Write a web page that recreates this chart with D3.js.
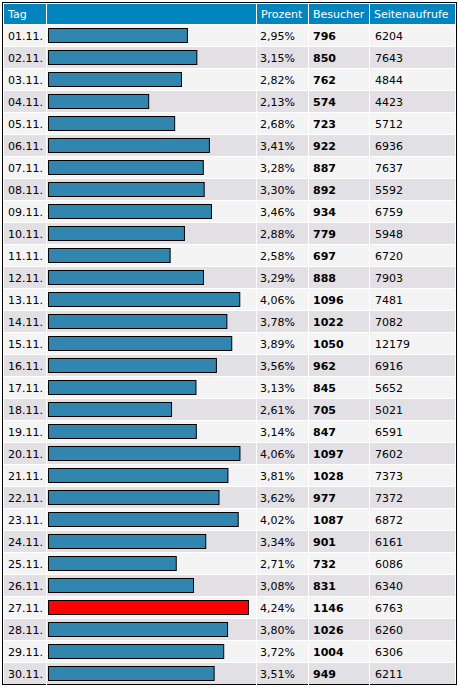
<!DOCTYPE html>
<html><head><meta charset="utf-8">
<script src="https://cdn.jsdelivr.net/npm/d3@7"></script>
<style>body{margin:0;background:#fff}text{font-family:"DejaVu Sans",Verdana,sans-serif;font-size:11px}</style>
</head><body><svg id="c" width="459" height="687"></svg>
<script>
var days = ["01.11.","02.11.","03.11.","04.11.","05.11.","06.11.","07.11.","08.11.","09.11.","10.11.","11.11.","12.11.","13.11.","14.11.","15.11.","16.11.","17.11.","18.11.","19.11.","20.11.","21.11.","22.11.","23.11.","24.11.","25.11.","26.11.","27.11.","28.11.","29.11.","30.11."];
var percent = ["2,95%","3,15%","2,82%","2,13%","2,68%","3,41%","3,28%","3,30%","3,46%","2,88%","2,58%","3,29%","4,06%","3,78%","3,89%","3,56%","3,13%","2,61%","3,14%","4,06%","3,81%","3,62%","4,02%","3,34%","2,71%","3,08%","4,24%","3,80%","3,72%","3,51%"];
var visitors = [796,850,762,574,723,922,887,892,934,779,697,888,1096,1022,1050,962,845,705,847,1097,1028,977,1087,901,732,831,1146,1026,1004,949];
var pageviews = [6204,7643,4844,4423,5712,6936,7637,5592,6759,5948,6720,7903,7481,7082,12179,6916,5652,5021,6591,7602,7373,7372,6872,6161,6086,6340,6763,6260,6306,6211];
var headers = ["Tag","","Prozent","Besucher","Seitenaufrufe"];

var svg = d3.select("#c");
var cols = [4,47,257,309,370,455];
var y = d3.scaleBand().domain(d3.range(30)).range([25,685]).paddingInner(0);
var x = d3.scaleLinear().domain([0,d3.max(visitors)]).range([0,200]);
var maxV = d3.max(visitors);

svg.append("rect").attr("x",2.5).attr("y",2.5).attr("width",454).attr("height",682).attr("fill","#fff").attr("stroke","#000");
svg.append("rect").attr("x",4).attr("y",4).attr("width",451).attr("height",20).attr("fill","#0285bf");
svg.selectAll(".hd").data(headers).enter().append("text")
  .attr("x",function(d,i){return cols[i]+4;}).attr("y",18).attr("fill","#fff").text(function(d){return d;});

var row = svg.selectAll(".row").data(days).enter().append("g")
  .attr("transform",function(d,i){return "translate(0,"+y(i)+")";});
row.append("rect").attr("x",4).attr("width",451).attr("height",y.bandwidth()-1)
  .attr("fill",function(d,i){return i%2?"#e2dfe5":"#f4f4f4";});
row.append("text").attr("x",8).attr("y",15).text(function(d){return d;});
row.append("rect").attr("x",48.5).attr("y",3.5).attr("height",14)
  .attr("width",function(d,i){return x(visitors[i]);})
  .attr("fill",function(d,i){return visitors[i]===maxV?"#ff0000":"#3186b0";}).attr("stroke","#000");
row.append("text").attr("x",cols[2]+3).attr("y",15).text(function(d,i){return percent[i];});
row.append("text").attr("x",cols[3]+4).attr("y",15).attr("font-weight","bold").text(function(d,i){return visitors[i];});
row.append("text").attr("x",cols[4]+5).attr("y",15).text(function(d,i){return pageviews[i];});

svg.selectAll(".sep").data(cols.slice(1,5)).enter().append("line")
  .attr("x1",function(d){return d-0.5;}).attr("x2",function(d){return d-0.5;})
  .attr("y1",4).attr("y2",685).attr("stroke","#fff");
</script></body></html>
